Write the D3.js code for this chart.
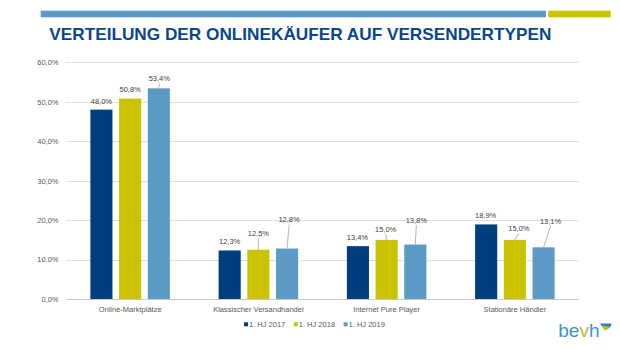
<!DOCTYPE html>
<html>
<head>
<meta charset="utf-8">
<script src="https://cdn.jsdelivr.net/npm/d3@7"></script>
<style>
  body { margin: 0; background: #fff; }
  text { font-family: "Liberation Sans", Arial, sans-serif; }
</style>
</head>
<body>
<div id="chart"></div>
<script>
// data
var categories = ["Online-Marktplätze", "Klassischer Versandhandel", "Internet Pure Player", "Stationäre Händler"];
var seriesNames = ["1. HJ 2017", "1. HJ 2018", "1. HJ 2019"];
var hj2017 = [48.0, 12.3, 13.4, 18.9];
var hj2018 = [50.8, 12.5, 15.0, 15.0];
var hj2019 = [53.4, 12.8, 13.8, 13.1];
var yTicks = [0, 10, 20, 30, 40, 50, 60];

var colors = ["#003e7e", "#cbc300", "#5b9ac5"];
// label offset (px) from bar center / bar top, per series then category
var labelOffsets = [
  [[0, -8], [0, -8.8], [-0.5, -8.8], [-0.5, -8.7]],
  [[0, -9.6], [0, -16.7], [-1, -11], [4, -11.5]],
  [[0.5, -10.5], [2, -29], [1, -24.3], [7, -26.3]]
];

var W = 620, H = 350;
var svg = d3.select("#chart").append("svg")
    .attr("width", W)
    .attr("height", H);

// top bars
svg.append("rect").attr("x", 40.7).attr("y", 10.7).attr("width", 505.3).attr("height", 6.6).attr("fill", "#5b9ac5");
svg.append("rect").attr("x", 548.3).attr("y", 10.7).attr("width", 62.4).attr("height", 6.6).attr("fill", "#cbc300");

// title
svg.append("text")
    .attr("x", 49.3)
    .attr("y", 39.5)
    .attr("textLength", 502)
    .attr("lengthAdjust", "spacingAndGlyphs")
    .style("font-size", "17px")
    .style("font-weight", "bold")
    .style("fill", "#0b4688")
    .text("VERTEILUNG DER ONLINEKÄUFER AUF VERSENDERTYPEN");

var y = d3.scaleLinear()
    .domain([0, 60])
    .range([299, 62.3]);

var x0 = d3.scaleBand()
    .domain(categories)
    .range([66, 579])
    .paddingInner(0.38)
    .paddingOuter(0.19);

var x1 = d3.scaleBand()
    .domain(seriesNames)
    .range([0, x0.bandwidth()])
    .paddingInner(0.23);

// gridlines
svg.append("g")
    .selectAll("line")
    .data(yTicks)
    .join("line")
    .attr("x1", 66)
    .attr("x2", 579)
    .attr("y1", function(d){ return Math.round(y(d)) + 0.5; })
    .attr("y2", function(d){ return Math.round(y(d)) + 0.5; })
    .style("stroke", function(d){ return d === 0 ? "#c8c8c8" : "#dedede"; })
    .style("stroke-width", "1px");

// y axis labels
var yAxis = svg.append("g")
    .attr("transform", "translate(66,0)")
    .call(d3.axisLeft(y).tickValues(yTicks).tickSize(0).tickPadding(7.5)
        .tickFormat(function(d){ return d3.format(".1f")(d).replace(".", ",") + "%"; }));
yAxis.select(".domain").remove();
yAxis.selectAll("text").style("font-size", "7.5px").style("fill", "#595959")
    .style("font-family", "'Liberation Sans', Arial, sans-serif");

// bars
var allSeries = [hj2017, hj2018, hj2019];
allSeries.forEach(function(vals, si){
  var g = svg.append("g");
  g.selectAll("rect")
    .data(vals)
    .join("rect")
    .attr("x", function(d, i){ return x0(categories[i]) + x1(seriesNames[si]); })
    .attr("y", function(d){ return y(d); })
    .attr("width", x1.bandwidth())
    .attr("height", function(d){ return y(0) - y(d); })
    .attr("fill", colors[si]);

  // leader lines
  g.selectAll("line")
    .data(vals)
    .join("line")
    .attr("x1", function(d, i){ return x0(categories[i]) + x1(seriesNames[si]) + x1.bandwidth() / 2 + labelOffsets[si][i][0]; })
    .attr("y1", function(d, i){ return y(d) + labelOffsets[si][i][1] + 5; })
    .attr("x2", function(d, i){ return x0(categories[i]) + x1(seriesNames[si]) + x1.bandwidth() / 2; })
    .attr("y2", function(d){ return y(d); })
    .style("stroke", "#a6a6a6")
    .style("stroke-width", "0.8px")
    .style("display", function(d, i){ return labelOffsets[si][i][1] <= -10 ? null : "none"; });

  g.selectAll("text")
    .data(vals)
    .join("text")
    .attr("x", function(d, i){ return x0(categories[i]) + x1(seriesNames[si]) + x1.bandwidth() / 2 + labelOffsets[si][i][0]; })
    .attr("y", function(d, i){ return y(d) + labelOffsets[si][i][1] + 2.7; })
    .attr("text-anchor", "middle")
    .style("font-size", "7.5px")
    .style("fill", "#404040")
    .text(function(d){ return d3.format(".1f")(d).replace(".", ",") + "%"; });
});

// category labels
svg.append("g")
    .selectAll("text")
    .data(categories)
    .join("text")
    .attr("x", function(d){ return x0(d) + x0.bandwidth() / 2; })
    .attr("y", 311.5)
    .attr("text-anchor", "middle")
    .style("font-size", "7.5px")
    .style("fill", "#595959")
    .text(function(d){ return d; });

// legend
var legend = svg.append("g").attr("transform", "translate(244,324.3)");
var lx = 0;
seriesNames.forEach(function(name, i){
  var item = legend.append("g").attr("transform", "translate(" + lx + ",0)");
  item.append("rect").attr("x", 0).attr("y", -2).attr("width", 4).attr("height", 4).attr("fill", colors[i]);
  var t = item.append("text")
      .attr("x", 5)
      .attr("y", 2.7)
      .style("font-size", "7.5px")
      .style("fill", "#595959")
      .text(name);
  lx += 5 + t.node().getComputedTextLength() + 8.5;
});

// bevh logo
var logo = svg.append("text")
    .attr("x", 558.3)
    .attr("y", 336.7)
    .style("font-size", "19px")
    .style("fill", "#3f93cc");
logo.append("tspan").text("be");
logo.append("tspan").style("fill", "#b9bd1e").text("v");
logo.append("tspan").text("h");
svg.append("path")
    .attr("d", "M600,323.5 L611.5,323.5 L610.5,327 L605,330.5 Z")
    .attr("fill", "#2a7cc0");
svg.append("path")
    .attr("d", "M602,325.5 L610.5,327 L605,330.5 Z")
    .attr("fill", "#cbc300");
</script>
</body>
</html>
